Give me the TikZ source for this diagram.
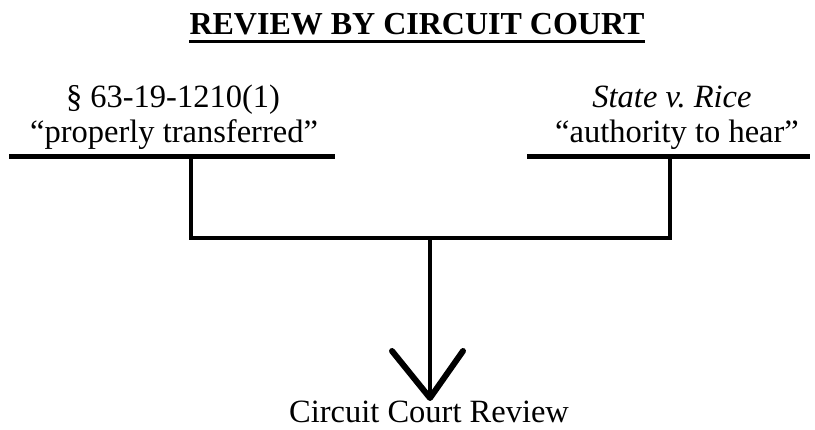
\documentclass[tikz,border=0pt]{standalone}
\usepackage{fontspec}
\setmainfont{Liberation Serif}
\begin{document}
\begin{tikzpicture}[x=1pt,y=-1pt,
  lbl/.style={inner sep=0pt,anchor=base,font=\fontsize{32.5}{35}\selectfont},
  bar/.style={line width=5pt},
  conn/.style={line width=4.5pt},
  wing/.style={line width=6pt,line cap=round,line join=round}]
\useasboundingbox (0,0) rectangle (815,430);
% title
\node[lbl,font=\fontsize{32}{35}\selectfont\bfseries] (title) at (417,35) {REVIEW BY CIRCUIT COURT};
\draw[line width=2.5pt] ([yshift=-6.5pt]title.base west) -- ([yshift=-6.5pt]title.base east);
% left
\node[lbl] (l1) at (173,108) {§ 63-19-1210(1)};
\node[lbl] (l2) at (174,143) {“properly transferred”};
% right
\node[lbl] (r1) at (672,108) {\itshape State v.\ Rice};
\node[lbl] (r2) at (677,143) {“authority to hear”};
% bottom
\node[lbl] (out) at (429,423) {Circuit Court Review};
% coordinates
\coordinate (lbA) at (9,157);
\coordinate (lbB) at (335,157);
\coordinate (lt) at (191,157);
\coordinate (lj) at (191,238);
\coordinate (rbA) at (527,157);
\coordinate (rbB) at (810,157);
\coordinate (rt) at (670,157);
\coordinate (rj) at (670,238);
\coordinate (mj) at (430,238);
\coordinate (tip) at (430,398);
\coordinate (wl) at (392,351);
\coordinate (wr) at (463,351);
% bars
\draw[bar] (lbA) -- (lbB);
\draw[bar] (rbA) -- (rbB);
% connectors
\draw[conn,line join=miter] (lt) -- (lj) -- (rj) -- (rt);
\draw[conn] (mj) -- (tip);
\draw[wing] (wl) -- (tip) -- (wr);
\end{tikzpicture}
\end{document}
